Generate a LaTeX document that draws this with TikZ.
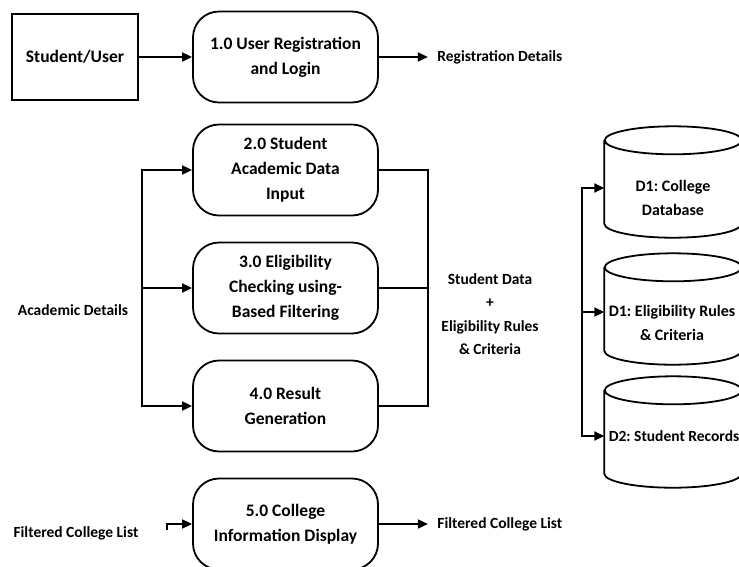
\documentclass[tikz,border=0pt]{standalone}
\usepackage{fontspec}
\setmainfont{Carlito}
\usetikzlibrary{positioning,arrows.meta}
\frenchspacing

\begin{document}
\begin{tikzpicture}[x=1pt, y=-1pt, node distance=118pt,
    font=\bfseries\fontsize{15.5}{23.5}\selectfont,
    ln/.style={line width=1.8pt},
    big/.style={font=\bfseries\fontsize{17.5}{25}\selectfont},
    proc/.style={draw, ln, big, rounded corners=26pt, minimum width=185pt, minimum height=91pt, align=center},
    ent/.style={draw, ln, big, minimum width=126pt, minimum height=86pt},
    store/.style={inner sep=0pt, minimum width=137pt, minimum height=111pt},
    storetxt/.style={align=center, font=\bfseries\fontsize{16}{23.5}\selectfont},
    flow/.style={ln, -{Triangle[length=10pt, width=9pt]}}]
    \useasboundingbox (0,0) rectangle (739,566);
    \clip (0,0) rectangle (739,566);

    % Entity and processes
    \node (user) [ent] at (75,57) {Student/User};
    \node (P1) [proc] at (285.5,57) {1.0 User Registration\\and Login};
    \node (P2) [proc, below of=P1, yshift=5pt] {2.0 Student\\Academic Data\\Input};
    \node (P3) [proc, below of=P2] {3.0 Eligibility\\Checking using-\\Based Filtering};
    \node (P4) [proc, below of=P3] {4.0 Result\\Generation};
    \node (P5) [proc, below of=P4] {5.0 College\\Information Display};

    % Data stores
    \node (D1) [store] at (673,182) {};
    \node (D2) [store] at (673,309) {};
    \node (D3) [store] at (673,432) {};
    \foreach \d in {D1,D2,D3}
        \draw[ln] ([yshift=-14pt]\d.north west) -- ([yshift=14pt]\d.south west)
            arc[start angle=180, end angle=360, x radius=68.5pt, y radius=14pt]
            -- ([yshift=-14pt]\d.north east)
            arc[start angle=0, end angle=360, x radius=68.5pt, y radius=14pt];
    \node (D1txt) [storetxt] at (673,198) {D1: College\\Database};
    \node (D2txt) [storetxt] at (672,323) {D1: Eligibility Rules\\\& Criteria};
    \node (D3txt) [storetxt, font=\bfseries\fontsize{15.5}{23.5}\selectfont] at (674,436) {D2: Student Records};

    % Flow labels
    \node (regout) [right=55pt of P1] {Registration Details};
    \node (acad) at (73,310) {Academic Details};
    \node (mix) [align=center] at (490,314) {Student Data\\+\\Eligibility Rules\\\& Criteria};
    \node (listin) at (76,533) {Filtered College List};
    \node (listout) [right=55pt of P5] {Filtered College List};

    % Bus points
    \coordinate [left=50pt of P2.west] (inL2);
    \coordinate [left=50pt of P3.west] (inL3);
    \coordinate [left=50pt of P4.west] (inL4);
    \coordinate [right=49pt of P2.east] (outR2);
    \coordinate [right=49pt of P3.east] (outR3);
    \coordinate [right=49pt of P4.east] (outR4);
    \coordinate (inL5) at (167,530);
    \coordinate (s1) at (582,188);
    \coordinate (s2) at (582,312);
    \coordinate (s3) at (582,436);

    % Arrows
    \draw[flow] (user) -- (P1);
    \draw[flow, shorten >=6pt] (P1) -- (regout);
    \draw[flow] (inL3) -- (inL2) -- (P2);
    \draw[flow] (inL3) -- (P3);
    \draw[flow] (inL3) -- (inL4) -- (P4);
    \draw[ln] (P2.east) -- (outR2) -- (outR4) -- (P4.east);
    \draw[ln] (P3.east) -- (outR3);
    \draw[flow] (s2) -- (s1) -- (s1 -| D1.west);
    \draw[flow] (s2) -- (s2 -| D2.west);
    \draw[flow] (s2) -- (s3) -- (s3 -| D3.west);
    \draw[flow] (inL5) |- (P5);
    \draw[flow, shorten >=6pt] (P5) -- (listout);
\end{tikzpicture}
\end{document}
